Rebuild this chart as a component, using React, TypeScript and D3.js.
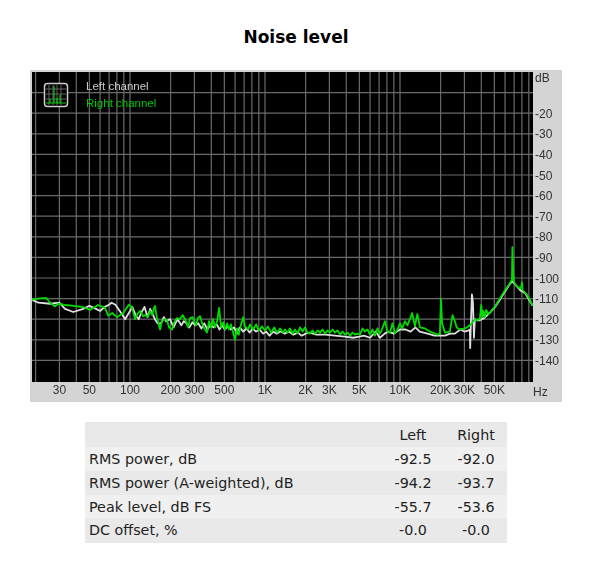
import React from "react";
import * as d3 from "d3";

const title = "Noise level";
const dbTicks = [-20, -30, -40, -50, -60, -70, -80, -90, -100, -110, -120, -130, -140];
const dbGrid = [-10, ...dbTicks];
const freqTicks = [30, 50, 100, 200, 300, 500, 1000, 2000, 3000, 5000, 10000, 20000, 30000, 50000];
const freqLabels = ["30", "50", "100", "200", "300", "500", "1K", "2K", "3K", "5K", "10K", "20K", "30K", "50K"];
const freqGrid = [20, 30, 40, 50, 60, 70, 80, 90, 100, 200, 300, 400, 500, 600, 700, 800, 900, 1000, 2000, 3000, 4000, 5000, 6000, 7000, 8000, 9000, 10000, 20000, 30000, 40000, 50000, 60000, 70000, 80000, 90000];

const rightFreq = [
  18.8, 21, 24, 25.6, 27.8, 29.3, 33, 37, 45, 50.5,
  58, 65, 69, 74, 80, 89, 98, 103, 109, 113,
  119, 125, 129, 135, 141, 146, 150, 153, 158, 161,
  167, 172, 179, 188, 195, 205, 211, 222, 234, 246,
  260, 270, 278, 291, 308, 318, 330, 346, 359, 372,
  385, 398, 413, 426, 442, 457, 473, 490, 505, 525,
  540, 560, 580, 599, 620, 640, 665, 690, 710, 750,
  774, 815, 860, 900, 950, 1000, 1050, 1110, 1170, 1230,
  1292, 1360, 1406, 1470, 1532, 1600, 1668, 1740, 1816, 1900,
  1978, 2065, 2154, 2250, 2346, 2450, 2554, 2670, 2782, 2900,
  3029, 3170, 3299, 3450, 3593, 3750, 3912, 4080, 4260, 4450,
  4639, 4850, 5052, 5280, 5501, 5740, 5990, 6250, 6523, 6800,
  7103, 7300, 7735, 8080, 8423, 8800, 9172, 9570, 9988, 10400,
  10876, 11350, 11843, 12300, 12897, 13450, 14044, 15293, 16653, 18134,
  19000, 19747, 20100, 20500, 21503, 23416, 24500, 25500, 26300, 27768,
  30238, 32927, 34500, 35856, 37000, 39045, 40000, 40800, 41500, 42518,
  43500, 45000, 46300, 48000, 50418, 54902, 59785, 63000, 65103, 66500,
  67500, 68000, 69000, 70000, 72000, 75000, 77200, 79000, 80000, 81000,
  84066, 88000, 91544, 96000,
];
const rightDb = [
  -110.6, -110, -109.7, -112, -113.8, -112.5, -113.1, -113.4, -114.1, -115.5,
  -113.1, -114.4, -118.3, -117, -119, -117, -113, -114, -120, -117.5,
  -116, -118.5, -118, -119, -116, -118, -115, -113.5, -119, -121,
  -125, -121, -120, -120.5, -124, -125, -122, -119.5, -120, -118,
  -121, -124, -119.5, -119, -123, -119.5, -118.5, -123, -125, -126.5,
  -121, -124, -120, -124, -121, -114.5, -124, -121.5, -125, -122,
  -125, -122.5, -126.5, -130, -124.5, -127.5, -122.5, -119, -123.5, -125,
  -122.5, -125, -122.5, -125.5, -123.5, -125.5, -123.5, -126.5, -124, -126.5,
  -124.5, -126.5, -125, -126.5, -124.5, -127, -125, -127, -124, -126,
  -124, -126.5, -127, -125.5, -127, -125.5, -126.5, -125, -127, -125.5,
  -126.5, -125, -126.5, -125.5, -127.5, -126, -127.5, -126.5, -128, -126.5,
  -127.5, -127, -127.5, -124.5, -126, -125, -127.5, -125, -128, -124.5,
  -127, -125.5, -121, -126, -126.5, -122, -127, -125, -122, -124.5,
  -121, -123, -120, -117, -123.5, -117.5, -124, -124.5, -126, -127,
  -127.5, -127, -110, -122, -126.5, -126, -118, -121, -124, -125,
  -124.5, -123, -121.5, -120, -120.5, -120, -113, -119, -116, -119,
  -115.5, -117.5, -117, -115.5, -114, -110, -106, -104, -102.5, -101.5,
  -101, -85, -98, -102, -103.5, -104.5, -105, -104.5, -102, -106,
  -107, -108.5, -110.5, -113.5,
];

const leftFreq = [
  18.8, 21, 25.6, 30, 33, 38, 45, 50, 56, 60,
  65, 70, 73, 78, 83, 88, 92, 100, 104, 110,
  116, 121, 128, 135, 141, 148, 153, 160, 170, 178,
  185, 198, 210, 225, 240, 250, 262, 275, 290, 305,
  320, 338, 355, 375, 395, 415, 440, 460, 480, 505,
  530, 560, 590, 620, 650, 690, 730, 770, 810, 860,
  910, 970, 1020, 1080, 1150, 1220, 1300, 1400, 1500, 1620,
  1750, 1870, 2000, 2150, 2400, 2800, 3300, 3900, 4500, 5000,
  5400, 6000, 6600, 7100, 7700, 8200, 9000, 10000, 11000, 12000,
  13000, 14000, 16000, 18000, 20000, 21500, 23500, 25500, 28000, 30000,
  32000, 32927, 33100, 33500, 34100, 34700, 35300, 35856, 37000, 39000,
  42000, 46000, 50000, 55000, 60000, 65000, 68000, 72000, 78000, 85000, 96000,
];
const leftDb = [
  -110.6, -112, -112.5, -112, -115, -116.5, -115, -113.5, -115, -116,
  -114, -113, -112, -113, -115.5, -118, -120, -116, -114, -118,
  -120, -117, -114, -119, -115, -118, -120, -122, -122, -119,
  -121, -120, -124, -120, -123, -121, -122, -124, -121.5, -123,
  -122, -124.5, -122, -125, -122.5, -124, -122.5, -125, -123, -125,
  -123.5, -125, -124, -127, -124, -126, -124.5, -126.5, -124.5, -126,
  -125, -127, -126, -128, -126, -127, -126, -127, -126, -127.5,
  -126.5, -128, -127, -126.5, -127.5, -127.5, -128, -128.5, -129, -128.5,
  -128, -129, -126, -129, -127, -126, -127, -125, -125, -126,
  -124, -126, -127, -128, -128, -128, -127, -127, -125, -126,
  -125.5, -125, -134, -122, -108, -112, -129, -120, -120.5, -120.5,
  -119.5, -117, -114.5, -110.5, -106.5, -103, -101.5, -103.5, -106, -107.5, -113.5,
];

const x = d3.scaleLog().domain([100, 1000]).range([130, 265]);
const y = d3.scaleLinear().domain([-20, -130]).range([113.2, 339.8]);
const pathFor = (fs: number[], ds: number[]) =>
  d3.line<number>().x((f) => x(f)).y((_, i) => y(ds[i]))(fs) ?? "";

const tableHead = ["", "Left", "Right"];
const rowNames = ["RMS power, dB", "RMS power (A-weighted), dB", "Peak level, dB FS", "DC offset, %"];
const leftVals = ["-92.5", "-94.2", "-55.7", "-0.0"];
const rightVals = ["-92.0", "-93.7", "-53.6", "-0.0"];

const PLOT = { l: 32, r: 533, t: 72, b: 382 };
const ARIAL = "'Liberation Sans', Arial, sans-serif";
const VERDANA = "'DejaVu Sans', Verdana, sans-serif";
const rowY = [422, 447, 471, 495, 518, 543];
const rowFill = ["#e9e9e9", "#f0f0f0", "#e9e9e9", "#f0f0f0", "#e9e9e9"];

export default function App() {
  return (
    <svg width={600} height={575} style={{ position: "absolute", left: 0, top: 0, background: "#fff" }}>
      <defs>
        <filter id="soft" x="0" y="0" width="100%" height="100%">
          <feGaussianBlur stdDeviation="0.35" />
        </filter>
      </defs>
      <text x={296} y={43} textAnchor="middle" fontFamily={VERDANA} fontWeight="bold" fontSize={17} fill="#000">{title}</text>

      <g filter="url(#soft)">
        <rect x={30} y={70} width={532} height={332} fill="#d4d4d4" />
        <rect x={PLOT.l} y={PLOT.t} width={PLOT.r - PLOT.l} height={PLOT.b - PLOT.t} fill="#000" />

        {freqGrid.map((f) => (
          <line key={f} x1={x(f)} x2={x(f)} y1={PLOT.t} y2={PLOT.b} stroke="#6a6a6a" strokeWidth={1.2} />
        ))}
        {dbGrid.map((d) => (
          <line key={d} x1={PLOT.l} x2={PLOT.r} y1={y(d)} y2={y(d)} stroke="#6a6a6a" strokeWidth={1.2} />
        ))}

        <g>
          <rect x={44.5} y={83.5} width={23} height={23} rx={3} fill="#000" stroke="#ccc" strokeWidth={1.5} />
          {[49, 53, 57, 61].map((v) => <line key={v} x1={v} x2={v} y1={85} y2={105} stroke="#666" />)}
          {[89, 94, 99].map((v) => <line key={v} x1={46} x2={66} y1={v} y2={v} stroke="#666" />)}
          <path d="M46 103H66M54 103V86M60 103V95M50 103V99M57 103V98" stroke="#00d000" strokeWidth={1.2} fill="none" />
        </g>
        <text x={86} y={90} fontFamily={ARIAL} fontSize={11.5} fill="#ccc">Left channel</text>
        <text x={86} y={107} fontFamily={ARIAL} fontSize={11.5} fill="#00c800">Right channel</text>

        <path d={pathFor(leftFreq, leftDb)} fill="none" stroke="#e0e0e0" strokeWidth={1.8} strokeLinejoin="round" />
        <path d={pathFor(rightFreq, rightDb)} fill="none" stroke="#00dc00" strokeWidth={1.8} strokeLinejoin="round" />

        <text x={535} y={82} fontFamily={ARIAL} fontSize={12} fill="#333">dB</text>
        {dbTicks.map((d) => (
          <text key={d} x={535} y={y(d) + 4.5} fontFamily={ARIAL} fontSize={12} fill="#333">{d}</text>
        ))}
        {freqTicks.map((f, i) => (
          <text key={f} x={x(f)} y={394} textAnchor="middle" fontFamily={ARIAL} fontSize={12} fill="#333">{freqLabels[i]}</text>
        ))}
        <text x={533} y={396} fontFamily={ARIAL} fontSize={12} fill="#333">Hz</text>
      </g>

      {rowFill.map((c, i) => (
        <rect key={i} x={85} y={rowY[i]} width={422} height={rowY[i + 1] - rowY[i]} fill={c} />
      ))}
      <text x={413} y={440} textAnchor="middle" fontFamily={VERDANA} fontSize={14.3} fill="#222">{tableHead[1]}</text>
      <text x={476} y={440} textAnchor="middle" fontFamily={VERDANA} fontSize={14.3} fill="#222">{tableHead[2]}</text>
      {rowNames.map((n, i) => (
        <g key={n} fontFamily={VERDANA} fontSize={14.3} fill="#222">
          <text x={89} y={rowY[i + 1] + 17}>{n}</text>
          <text x={413} y={rowY[i + 1] + 17} textAnchor="middle">{leftVals[i]}</text>
          <text x={476} y={rowY[i + 1] + 17} textAnchor="middle">{rightVals[i]}</text>
        </g>
      ))}
    </svg>
  );
}
